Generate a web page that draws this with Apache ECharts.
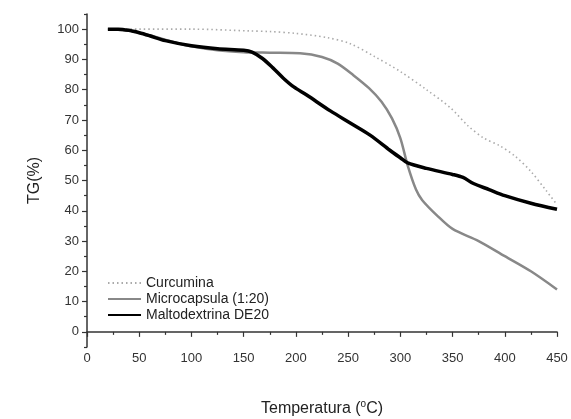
<!DOCTYPE html>
<html>
<head>
<meta charset="utf-8">
<script src="https://cdn.jsdelivr.net/npm/echarts@6/dist/echarts.min.js"></script>
<style>
  html, body { margin: 0; padding: 0; background: #fff; }
  #chart { width: 571px; height: 419px; }
</style>
</head>
<body>
<div id="chart"></div>
<script>
// TG curves, [temperature °C, mass %]
const curcumina = [
  [20, 100], [50, 100], [100, 100], [156, 99.4], [175, 99.2], [200, 98.6],
  [230, 97.2], [252, 95.2], [275, 91], [300, 86], [325, 80], [348, 74],
  [365, 68], [380, 64], [395, 61.5], [410, 58], [425, 53], [440, 46.5], [450, 42]
];
const microcapsula = [
  [20, 100], [40, 99.5], [60, 98], [80, 96], [100, 94.3], [125, 93], [150, 92.4],
  [175, 92.2], [204, 92], [225, 90.8], [240, 88.6], [255, 84.8], [270, 80.5], [282, 76],
  [292, 70.5], [300, 64], [307, 55], [315, 47], [321, 43.5], [335, 38.5], [350, 34],
  [375, 30], [400, 25], [425, 20], [450, 14]
];
const maltodextrina = [
  [20, 100], [30, 100], [40, 99.6], [50, 98.8], [60, 97.8], [75, 96.2], [100, 94.5],
  [125, 93.5], [150, 93], [158, 92.4], [168, 90.3], [178, 87.2], [188, 83.8], [198, 80.9],
  [210, 78.3], [233, 73], [252, 69], [271, 65], [290, 60], [300, 57.5], [307, 55.8],
  [325, 54], [350, 52], [360, 51], [370, 49], [385, 47], [400, 45], [425, 42.5], [450, 40.5]
];
const seriesNames = ['Curcumina', 'Microcapsula (1:20)', 'Maltodextrina DE20'];
const yLabels = [0, 10, 20, 30, 40, 50, 60, 70, 80, 90, 100];
const yMinor = [-5, 5, 15, 25, 35, 45, 55, 65, 75, 85, 95, 105];

const font = 'Liberation Sans, Arial, sans-serif';
const axisColor = '#333';

const chart = echarts.init(document.getElementById('chart'));

chart.setOption({
  animation: false,
  backgroundColor: '#fff',
  textStyle: { fontFamily: font },
  grid: { left: 87, right: 14, top: 14, bottom: 72, outerBoundsMode: 'none' },
  legend: {
    left: 102,
    top: 271,
    orient: 'vertical',
    itemWidth: 33,
    itemHeight: 10,
    itemGap: 2,
    itemStyle: { opacity: 0 },
    textStyle: { fontSize: 14, color: '#222', fontFamily: font },
    data: seriesNames
  },
  xAxis: {
    type: 'value',
    min: 0,
    max: 450,
    interval: 50,
    name: 'Temperatura ({sup|o}C)',
    nameLocation: 'middle',
    nameGap: 52,
    nameTextStyle: {
      fontSize: 16, color: '#222', fontFamily: font,
      rich: { sup: { fontSize: 10, verticalAlign: 'top', padding: [0, 0, 9, 0], color: '#222' } }
    },
    axisLine: { lineStyle: { color: axisColor, width: 1.5 } },
    axisTick: { length: 5, lineStyle: { color: axisColor, width: 1.2 } },
    minorTick: { show: true, splitNumber: 2, length: 3, lineStyle: { color: axisColor, width: 1.2 } },
    axisLabel: { fontSize: 13, color: '#333', margin: 5 },
    splitLine: { show: false }
  },
  yAxis: [
    {
      type: 'value',
      min: -5,
      max: 105,
      name: 'TG(%)',
      nameLocation: 'middle',
      nameGap: 44,
      nameTextStyle: { fontSize: 16, color: '#222', fontFamily: font },
      axisLine: { show: true, lineStyle: { color: axisColor, width: 1.5 } },
      axisTick: { customValues: yLabels, length: 5, lineStyle: { color: axisColor, width: 1.2 } },
      axisLabel: { customValues: yLabels, fontSize: 13, color: '#333', margin: 8 },
      splitLine: { show: false }
    },
    {
      type: 'value',
      min: -5,
      max: 105,
      position: 'left',
      axisLine: { show: false },
      axisTick: { show: true, customValues: yMinor, length: 3, lineStyle: { color: axisColor, width: 1.2 } },
      axisLabel: { show: false },
      splitLine: { show: false }
    }
  ],
  series: [
    {
      name: seriesNames[0],
      type: 'line',
      data: curcumina,
      smooth: 0.3,
      symbol: 'none',
      lineStyle: { color: '#aaa', width: 1.6, type: [1.5, 3] },
      itemStyle: { color: '#aaa' },
      z: 1
    },
    {
      name: seriesNames[1],
      type: 'line',
      data: microcapsula,
      smooth: 0.3,
      symbol: 'none',
      lineStyle: { color: '#888', width: 2.5 },
      itemStyle: { color: '#888' },
      z: 2
    },
    {
      name: seriesNames[2],
      type: 'line',
      data: maltodextrina,
      smooth: 0.3,
      symbol: 'none',
      lineStyle: { color: '#000', width: 3.5 },
      itemStyle: { color: '#000' },
      z: 3
    }
  ]
});
</script>
</body>
</html>
